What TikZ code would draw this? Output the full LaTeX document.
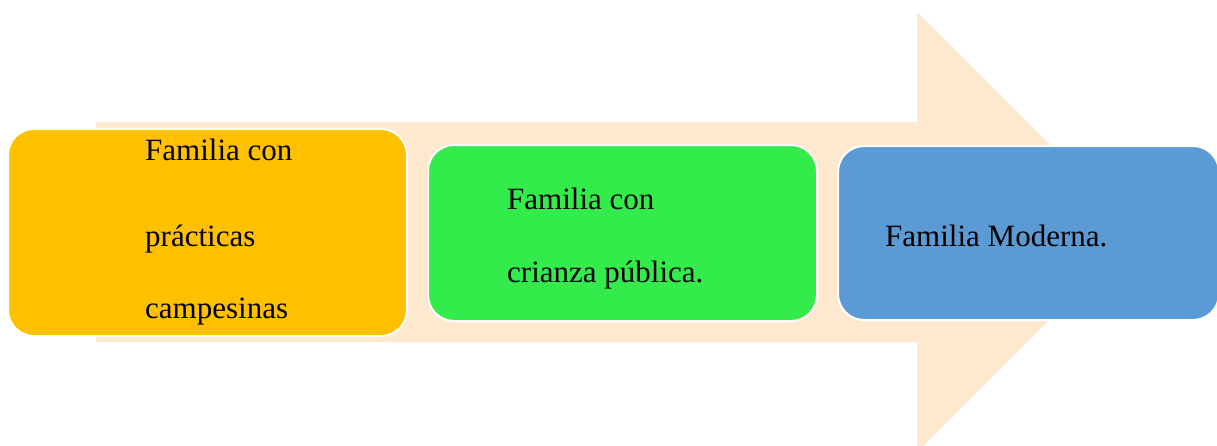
\documentclass[tikz,border=0pt]{standalone}
\usepackage{fontspec}
\setmainfont{Liberation Serif}
\definecolor{arrowc}{RGB}{254,232,206}
\definecolor{yellowc}{RGB}{255,192,0}
\definecolor{greenc}{RGB}{51,235,74}
\definecolor{bluec}{RGB}{91,155,213}
\tikzset{
  stagebox/.style={draw=white, line width=2pt, rounded corners=26pt, inner sep=0pt},
  stagetext/.style={anchor=base west, inner sep=0pt, font=\fontsize{31}{31}\selectfont, text=black}
}
\begin{document}
\begin{tikzpicture}[x=1pt,y=-1pt]
\useasboundingbox (0,0) rectangle (1217,445);
\begin{scope}
\clip (0,0) rectangle (1217,445);
\fill[arrowc] (96,122) -- (917,122) -- (917,12) -- (1137,232) -- (917,452) -- (917,342) -- (96,342) -- cycle;
\node[stagebox, fill=yellowc, minimum width=399pt, minimum height=207pt] (b1) at (207.5,232.5) {};
\node[stagebox, fill=greenc, minimum width=389pt, minimum height=176pt] (b2) at (622.5,233) {};
\node[stagebox, fill=bluec, minimum width=381pt, minimum height=174pt] (b3) at (1028.5,233) {};
\end{scope}
\node[stagetext] (t1a) at (145,160) {Familia con};
\node[stagetext] (t1b) at (145,246.5) {prácticas};
\node[stagetext] (t1c) at (145,318) {campesinas};
\node[stagetext] (t2a) at (507,209) {Familia con};
\node[stagetext] (t2b) at (507,282) {crianza pública.};
\node[stagetext] (t3) at (885,246) {Familia Moderna.};
\end{tikzpicture}
\end{document}
